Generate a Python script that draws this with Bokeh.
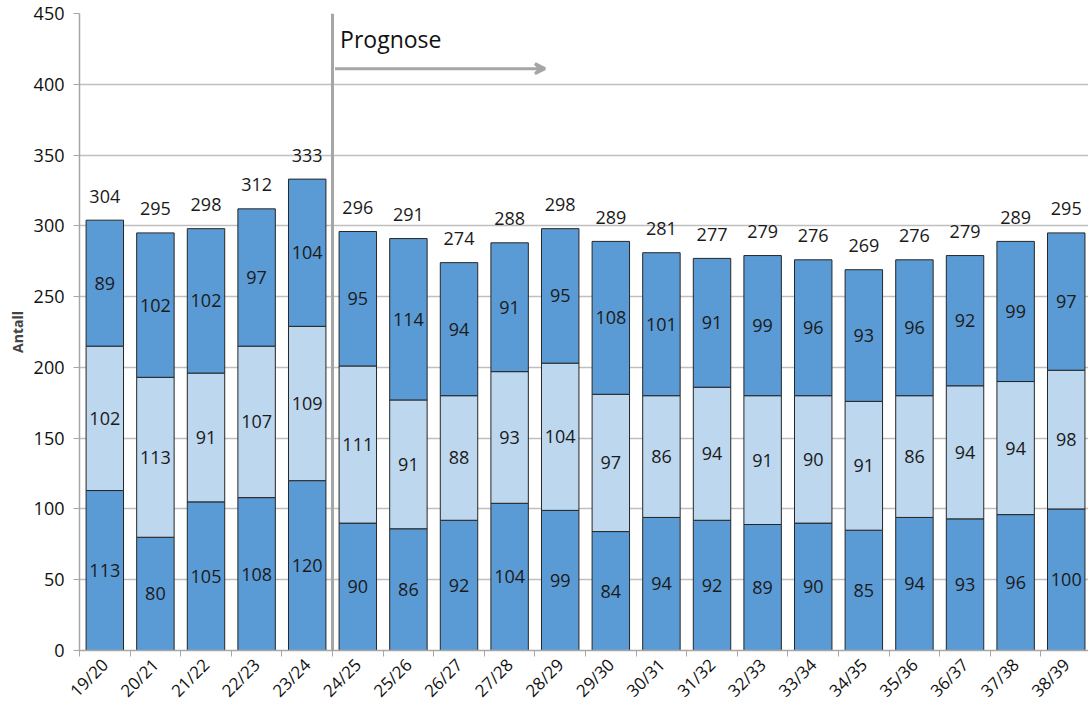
from math import pi

from bokeh.core.properties import value
from bokeh.embed import file_html
from bokeh.models import ColumnDataSource, Range1d, FixedTicker, Span, Arrow, VeeHead, Label
from bokeh.plotting import figure
from bokeh.resources import INLINE

# skoleår
years = ["19/20", "20/21", "21/22", "22/23", "23/24", "24/25", "25/26", "26/27", "27/28", "28/29",
         "29/30", "30/31", "31/32", "32/33", "33/34", "34/35", "35/36", "36/37", "37/38", "38/39"]

bottom = [113, 80, 105, 108, 120, 90, 86, 92, 104, 99, 84, 94, 92, 89, 90, 85, 94, 93, 96, 100]
middle = [102, 113, 91, 107, 109, 111, 91, 88, 93, 104, 97, 86, 94, 91, 90, 91, 86, 94, 94, 98]
top = [89, 102, 102, 97, 104, 95, 114, 94, 91, 95, 108, 101, 91, 99, 96, 93, 96, 92, 99, 97]
totals = [304, 295, 298, 312, 333, 296, 291, 274, 288, 298, 289, 281, 277, 279, 276, 269, 276, 279, 289, 295]

prognose_start = 5  # grensen mellom 23/24 og 24/25

FONT = "Open Sans"
DARK = "#5B9BD5"
LIGHT = "#BDD7EE"
GRID = "#BFBFBF"

xs = [i + 0.5 for i in range(len(years))]
src = ColumnDataSource(dict(x=xs, bottom=bottom, middle=middle, top=top, total=totals))

p = figure(width=1088, height=712, x_range=Range1d(0, 19.94), y_range=Range1d(0, 450),
           output_backend="svg", toolbar_location=None,
           min_border_left=79, min_border_right=0, min_border_top=13, min_border_bottom=58)
p.outline_line_color = None
p.background_fill_color = "white"

p.vbar_stack(["bottom", "middle", "top"], x="x", width=0.74, source=src,
             color=[DARK, LIGHT, DARK], line_color="#262626", line_width=1)

# etiketter i segmentene
lab = ColumnDataSource(dict(
    x=xs * 3,
    y=[b / 2 for b in bottom]
      + [b + m / 2 for b, m in zip(bottom, middle)]
      + [b + m + t / 2 for b, m, t in zip(bottom, middle, top)],
    t=[str(v) for v in bottom + middle + top],
))
p.text("x", "y", text="t", source=lab, text_align="center", text_baseline="middle",
       text_font=value(FONT), text_font_size="18px", text_color="#1a1a1a")

tot = ColumnDataSource(dict(x=xs, y=totals, t=[str(v) for v in totals]))
p.text("x", "y", text="t", source=tot, text_align="center", text_baseline="middle",
       y_offset=-24, text_font=value(FONT), text_font_size="18px", text_color="#1a1a1a")

# prognose-markering
p.add_layout(Span(location=prognose_start, dimension="height", line_color="#A6A6A6", line_width=3))
p.add_layout(Arrow(end=VeeHead(size=10, line_color="#A6A6A6", line_width=3),
                   x_start=prognose_start + 0.05, y_start=411, x_end=9.2, y_end=411,
                   line_color="#A6A6A6", line_width=3))
p.add_layout(Label(x=prognose_start + 0.15, y=421, text="Prognose", text_font=FONT,
                   text_font_size="23px", text_color="#111111"))

# akser
p.xgrid.grid_line_color = None
p.ygrid.grid_line_color = GRID
p.ygrid.grid_line_width = 1.5
p.yaxis.ticker = FixedTicker(ticks=list(range(0, 451, 50)))
p.yaxis.axis_label = "Antall"
p.yaxis.axis_label_text_font = FONT
p.yaxis.axis_label_text_font_style = "bold"
p.yaxis.axis_label_text_font_size = "14px"
p.yaxis.axis_label_standoff = 4
p.yaxis.major_label_text_font = FONT
p.yaxis.major_label_text_font_size = "18px"
p.yaxis.major_label_text_color = "#111111"
p.yaxis.major_label_standoff = 9
p.yaxis.axis_line_color = "#A6A6A6"
p.yaxis.axis_line_width = 1.5
p.yaxis.major_tick_line_color = "#A6A6A6"
p.yaxis.major_tick_out = 6
p.yaxis.major_tick_in = 0
p.yaxis.minor_tick_line_color = None

p.xaxis.ticker = FixedTicker(ticks=xs, minor_ticks=list(range(len(years) + 1)))
p.xaxis.major_label_overrides = {x: y for x, y in zip(xs, years)}
p.xaxis.major_label_orientation = pi / 4
p.xaxis.major_label_text_font = FONT
p.xaxis.major_label_text_font_size = "17px"
p.xaxis.major_label_text_color = "#111111"
p.xaxis.major_tick_line_color = None
p.xaxis.major_tick_out = 4
p.xaxis.minor_tick_line_color = "#A6A6A6"
p.xaxis.minor_tick_out = 6
p.xaxis.minor_tick_in = 0
p.xaxis.axis_line_color = "#A6A6A6"
p.xaxis.axis_line_width = 1.5

open("out.html", "w").write(file_html(p, INLINE))
